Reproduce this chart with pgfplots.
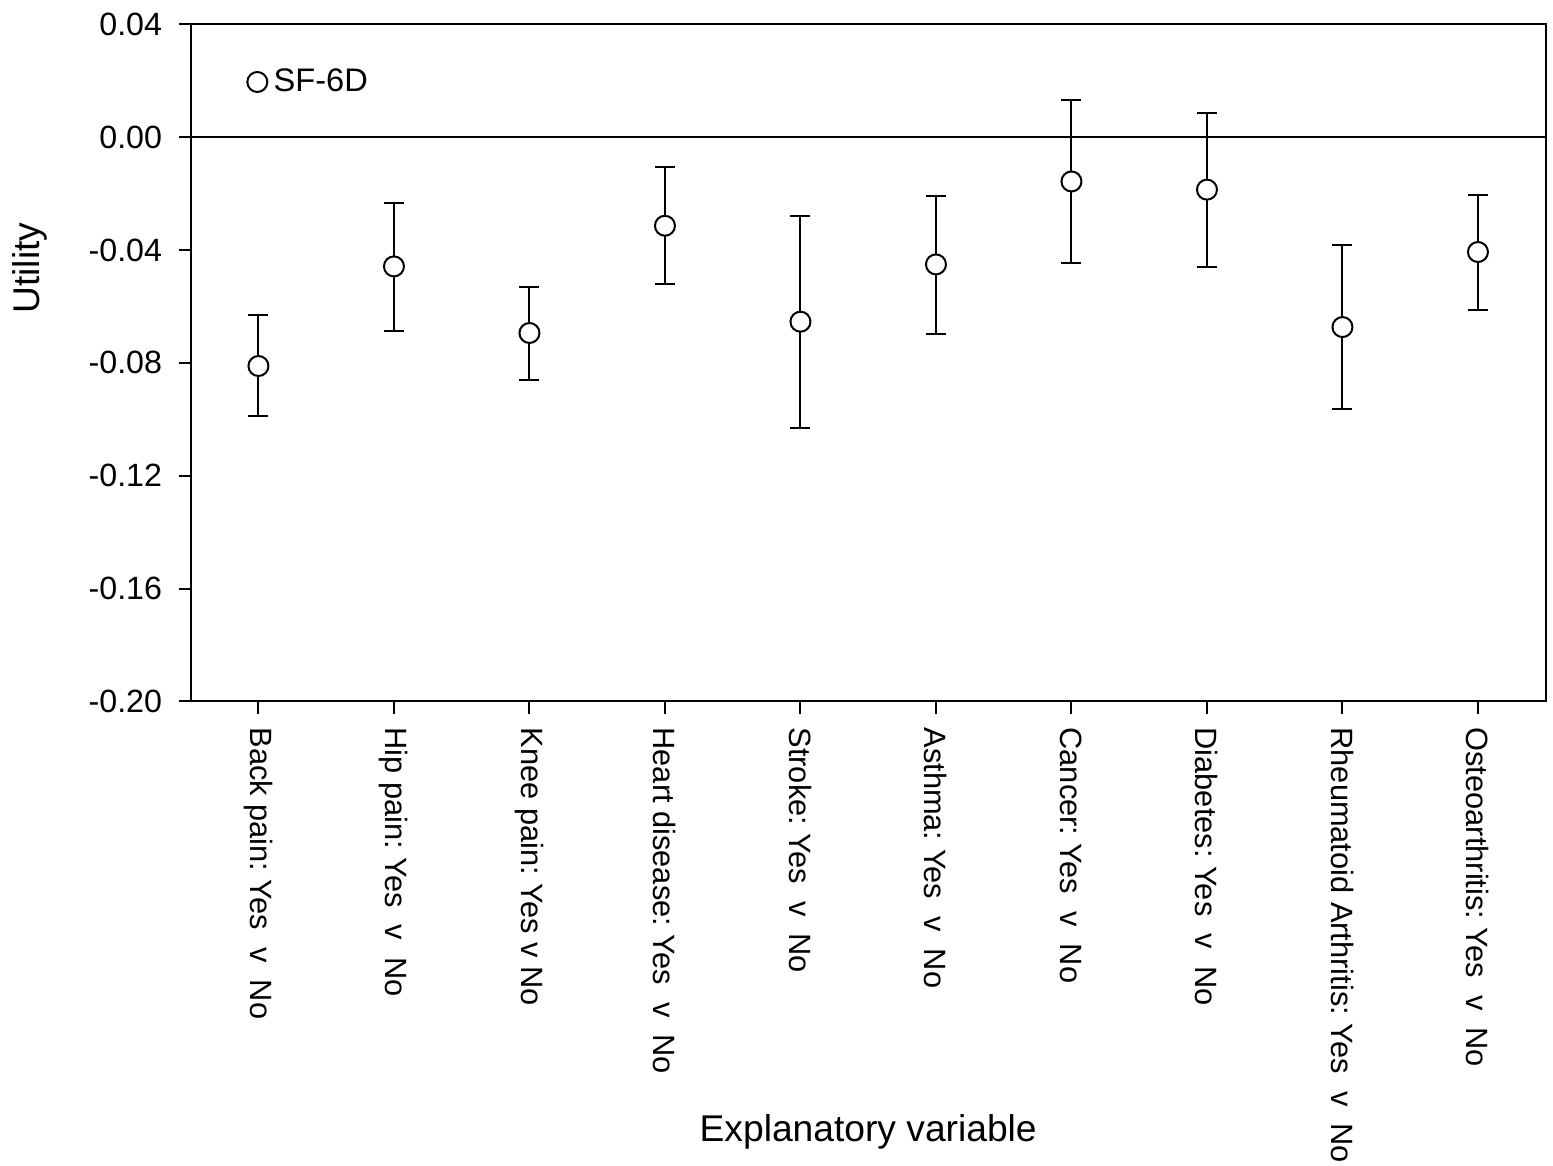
\documentclass[border=0pt]{standalone}
\usepackage{pgfplots}
\pgfplotsset{compat=1.18}
\usepackage{pgfplotstable}
\usepackage{fontspec}
\setmainfont{Liberation Sans}
\frenchspacing

\pgfplotstableread{
x y lo hi
0 -0.0811 -0.0989 -0.0631
1 -0.0458 -0.0687 -0.0233
2 -0.0694 -0.0860 -0.0531
3 -0.0314 -0.0522 -0.0107
4 -0.0654 -0.1029 -0.0281
5 -0.0451 -0.0696 -0.0207
6 -0.0157 -0.0446 0.0133
7 -0.0186 -0.0459 0.0084
8 -0.0673 -0.0965 -0.0381
9 -0.0407 -0.0611 -0.0206
}\datatable

\begin{document}
\begin{tikzpicture}
\begin{axis}[
  at={(0,0)}, anchor=south west,
  scale only axis, width=677.5pt, height=338.6pt,
  xmin=-0.5, xmax=9.5, ymin=-0.2, ymax=0.04,
  axis line style={line width=1pt, black},
  xtick={0,1,2,3,4,5,6,7,8,9},
  xticklabels={{Back pain: Yes\ \ v\ \ No},{Hip pain: Yes\ \ v\ \ No},{Knee pain: Yes v No},{Heart disease: Yes\ \ v\ \ No},{Stroke: Yes\ \ v\ \ No},{Asthma: Yes\ \ v\ \ No},{Cancer: Yes\ \ v\ \ No},{Diabetes: Yes\ \ v\ \ No},{Rheumatoid Arthritis: Yes\ \ v\ \ No},{Osteoarthritis: Yes\ \ v\ \ No}},
  ytick={-0.20,-0.16,-0.12,-0.08,-0.04,0,0.04},
  yticklabels={-0.20,-0.16,-0.12,-0.08,-0.04,0.00,0.04},
  tick align=outside, xtick pos=bottom, ytick pos=left,
  major tick length=6pt,
  tick style={black, line width=1pt},
  xticklabel style={font=\fontsize{15.4}{18}\selectfont, yshift=-3.5pt, rotate=-90, anchor=west},
  yticklabel style={font=\fontsize{16.1}{19}\selectfont, xshift=-4.8pt},
  xlabel={Explanatory variable},
  ylabel={Utility},
  label style={font=\fontsize{18.6}{22}\selectfont},
  xlabel style={at={(axis description cs:0.5,-0.636)}, anchor=center},
  ylabel style={at={(axis description cs:-0.1186,0.6401)}, anchor=center, rotate=0},
  legend style={draw=none, fill=none, at={(0.0418,0.9148)}, anchor=west, inner sep=0pt, outer sep=0pt, font=\fontsize{16.3}{19}\selectfont, /tikz/every odd column/.append style={column sep=1.2pt}},
  legend cell align=left,
  legend image code/.code={\draw[#1] plot coordinates {(0pt,0pt)};},
]
\addplot[black, line width=1pt, forget plot] coordinates {(-0.5,0) (9.5,0)};
\addplot[only marks, mark=*, mark size=5pt, black, mark options={fill=white, draw=black, line width=1pt},
  error bars/.cd, y dir=both, y explicit,
  error bar style={line width=1pt, black},
  error mark options={rotate=90, black, line width=1pt, mark size=5pt}]
  table[x=x, y=y, y error plus expr=\thisrow{hi}-\thisrow{y}, y error minus expr=\thisrow{y}-\thisrow{lo}] {\datatable};
\addlegendentry{SF-6D}
\end{axis}
\pgfresetboundingbox
\useasboundingbox (-95.35pt,-232.25pt) rectangle (681.15pt,350.75pt);
\end{tikzpicture}
\end{document}
